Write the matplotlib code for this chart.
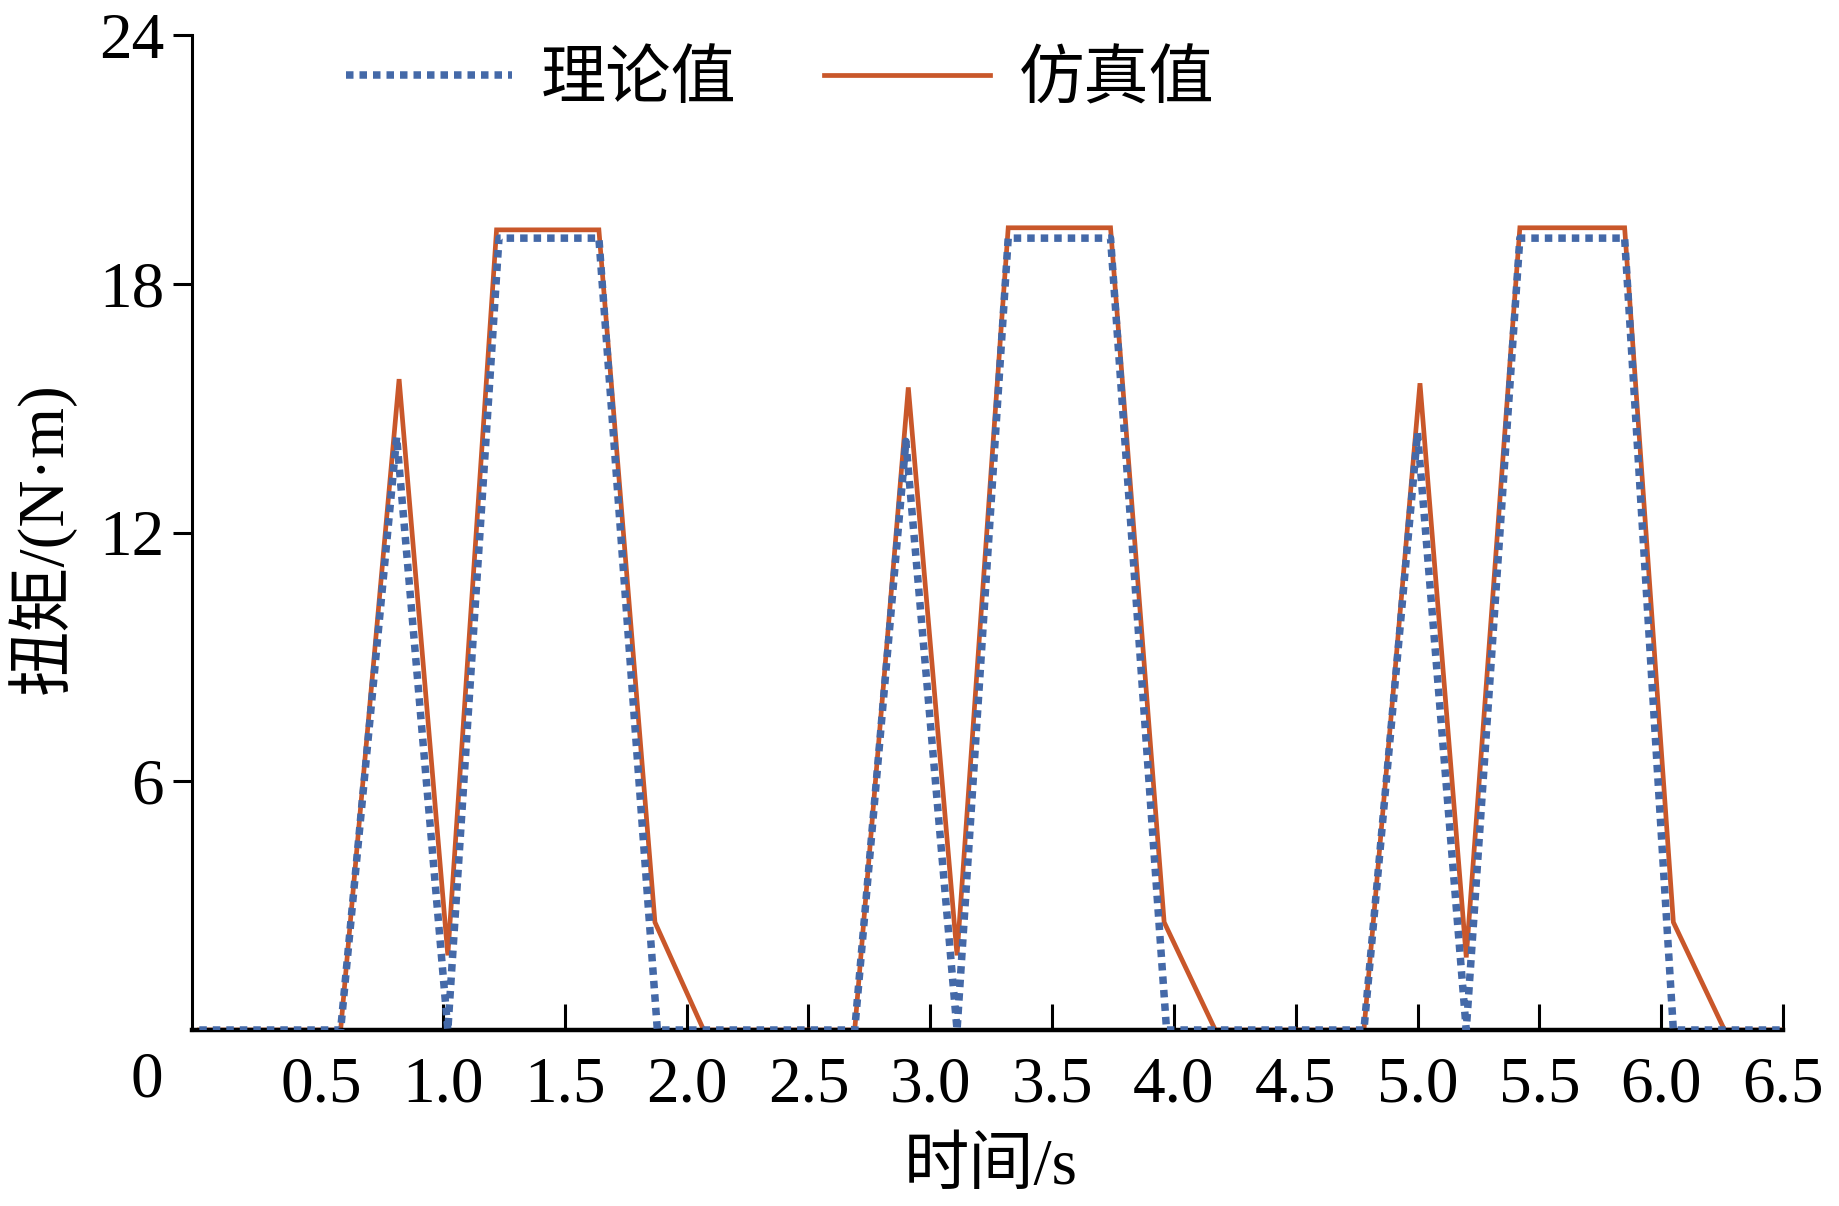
import matplotlib.pyplot as plt
from matplotlib.lines import Line2D

# theoretical torque (dotted blue)
time_theory = [0, 0.58, 0.81, 1.02, 1.23, 1.64, 1.88, 2.69, 2.90, 3.11,
               3.32, 3.74, 3.97, 4.78, 5.00, 5.20, 5.42, 5.85, 6.05, 6.5]
torque_theory = [0, 0, 14.3, 0, 19.1, 19.1, 0, 0, 14.2, 0,
                 19.1, 19.1, 0, 0, 14.4, 0, 19.1, 19.1, 0, 0]

# simulated torque (solid orange)
time_sim = [0, 0.58, 0.82, 1.02, 1.22, 1.64, 1.87, 2.07, 2.69, 2.91, 3.11,
            3.32, 3.74, 3.96, 4.17, 4.78, 5.01, 5.20, 5.42, 5.85, 6.05,
            6.26, 6.5]
torque_sim = [0, 0, 15.7, 1.8, 19.3, 19.3, 2.6, 0, 0, 15.5, 1.8,
              19.35, 19.35, 2.6, 0, 0, 15.6, 1.75, 19.35, 19.35, 2.6,
              0, 0]

x_ticks = [0.5, 1.0, 1.5, 2.0, 2.5, 3.0, 3.5, 4.0, 4.5, 5.0, 5.5, 6.0, 6.5]
y_ticks = [6, 12, 18, 24]
series_names = ["理论值", "仿真值"]

BLUE = "#4469A8"
ORANGE = "#C9572A"
FONT = ["Liberation Serif", "Noto Sans CJK SC", "DejaVu Sans"]
FS = 47
DOTS = (0, (1.0, 0.8))


def main():
    plt.rcParams["font.family"] = FONT
    fig = plt.figure(figsize=(18.39, 12.06), dpi=100)
    ax = fig.add_axes([192 / 1839, 1 - 1030 / 1206,
                       (1783 - 192) / 1839, (1030 - 35) / 1206])

    ax.plot(time_theory, torque_theory, color=BLUE, lw=5.4,
            linestyle=DOTS, dash_capstyle="butt", zorder=3)
    ax.plot(time_sim, torque_sim, color=ORANGE, lw=3.4,
            solid_joinstyle="miter", zorder=2)

    ax.set_xlim(-0.03, 6.5)
    ax.set_ylim(0, 24)
    ax.set_xticks(x_ticks)
    ax.set_xticklabels([f"{t:.1f}" for t in x_ticks])
    ax.set_yticks(y_ticks)
    ax.set_yticklabels([str(t) for t in y_ticks])

    for s in ["top", "right"]:
        ax.spines[s].set_visible(False)
    ax.spines["left"].set_linewidth(2.2)
    ax.spines["bottom"].set_linewidth(3.2)
    ax.tick_params(axis="x", direction="in", length=19, width=2.2,
                   pad=19, labelsize=FS)
    ax.tick_params(axis="y", direction="out", length=14, width=2.2,
                   pad=6, labelsize=FS)
    # no tick mark drawn at 0.5
    ax.xaxis.get_major_ticks()[0].tick1line.set_visible(False)

    fig.text(147 / 1839, 1 - 1081 / 1206, "0", fontsize=FS,
             ha="center", va="center")
    fig.text(991 / 1839, 1 - 1168 / 1206, "时间/s", fontsize=FS,
             ha="center", va="center")
    fig.text(41 / 1839, 1 - 538 / 1206, "扭矩/(N·m)", fontsize=FS,
             ha="center", va="center", rotation=90)

    handles = [
        Line2D([], [], color=BLUE, lw=5.4, linestyle=DOTS,
               dash_capstyle="butt"),
        Line2D([], [], color=ORANGE, lw=3.4),
    ]
    fig.legend(handles, series_names, loc="center left",
               bbox_to_anchor=(346 / 1839, 1 - 82 / 1206), ncol=2,
               frameon=False, fontsize=FS, handlelength=2.55,
               handletextpad=0.44, columnspacing=1.33, borderpad=0,
               borderaxespad=0)

    fig.savefig("out.png", dpi=100)


if __name__ == "__main__":
    main()
